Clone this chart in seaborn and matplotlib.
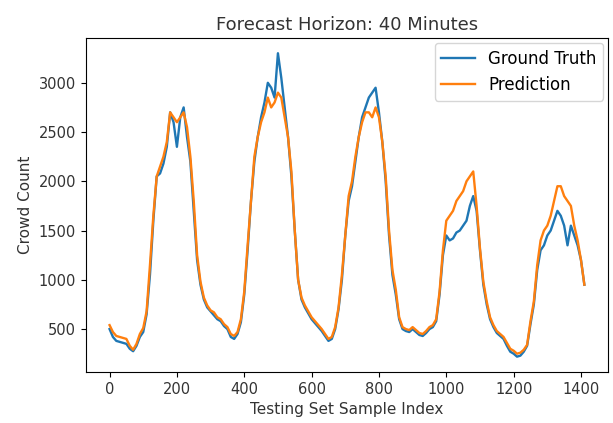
import numpy as np
import pandas as pd
import matplotlib
matplotlib.use("Agg")
import matplotlib.pyplot as plt
import seaborn as sns

# --- Data (every 10th sample) ---
STEP = 10
ground_truth = [
    500, 420, 380, 370, 360, 350, 300, 275, 330, 420,
    470, 650, 1050, 1600, 2050, 2080, 2180, 2350, 2700, 2600,
    2350, 2650, 2750, 2450, 2200, 1700, 1200, 950, 800, 720,
    680, 640, 600, 580, 530, 500, 420, 400, 450, 570,
    850, 1300, 1800, 2200, 2450, 2650, 2800, 3000, 2950, 2850,
    3300, 3050, 2750, 2450, 2050, 1500, 1000, 800, 720, 660,
    600, 560, 520, 480, 430, 380, 400, 500, 700, 1000,
    1450, 1800, 1950, 2200, 2450, 2650, 2750, 2850, 2900, 2950,
    2700, 2400, 2000, 1450, 1050, 850, 600, 500, 480, 470,
    500, 470, 440, 430, 460, 500, 520, 580, 850, 1250,
    1450, 1400, 1420, 1480, 1500, 1550, 1600, 1750, 1850, 1700,
    1300, 950, 750, 600, 520, 460, 430, 400, 330, 270,
    250, 220, 230, 270, 330, 550, 750, 1100, 1300, 1350,
    1450, 1500, 1600, 1700, 1650, 1550, 1350, 1550, 1450, 1350,
    1200, 950,
]
prediction = [
    540, 470, 430, 420, 410, 400, 330, 290, 350, 450,
    510, 680, 1150, 1650, 2050, 2150, 2250, 2400, 2700, 2650,
    2600, 2650, 2700, 2550, 2250, 1800, 1250, 980, 820, 740,
    690, 670, 620, 600, 550, 520, 450, 430, 470, 600,
    880, 1350, 1800, 2250, 2450, 2600, 2700, 2850, 2750, 2800,
    2900, 2850, 2650, 2450, 2100, 1500, 1000, 820, 740, 680,
    620, 580, 540, 500, 450, 400, 420, 520, 720, 1050,
    1450, 1850, 2000, 2250, 2450, 2600, 2700, 2700, 2650, 2750,
    2650, 2400, 2050, 1500, 1100, 900, 620, 520, 500, 490,
    520, 490, 460, 450, 480, 520, 540, 600, 880, 1300,
    1600, 1650, 1700, 1800, 1850, 1900, 2000, 2050, 2100, 1750,
    1320, 980, 780, 620, 540, 480, 450, 420, 360, 300,
    280, 250, 260, 290, 340, 580, 780, 1150, 1400, 1500,
    1550, 1650, 1800, 1950, 1950, 1850, 1800, 1750, 1550, 1400,
    1200, 950,
]
sample_index = np.arange(len(ground_truth)) * STEP

df = pd.DataFrame({
    "Testing Set Sample Index": sample_index,
    "Ground Truth": ground_truth,
    "Prediction": prediction,
})

fig = plt.figure(figsize=(6.13, 4.23), dpi=100)
ax = fig.add_axes([0.140, 0.121, 0.852, 0.789])

sns.lineplot(data=df, x="Testing Set Sample Index", y="Ground Truth",
             color="tab:blue", linewidth=1.7, label="Ground Truth", ax=ax)
sns.lineplot(data=df, x="Testing Set Sample Index", y="Prediction",
             color="tab:orange", linewidth=1.7, label="Prediction", ax=ax)

ax.set_title("Forecast Horizon: 40 Minutes", fontsize=13, color="#333333")
ax.set_xlabel("Testing Set Sample Index", fontsize=11, color="#333333")
ax.set_ylabel("Crowd Count", fontsize=11, color="#333333")
ax.set_xticks([0, 200, 400, 600, 800, 1000, 1200, 1400])
ax.set_yticks([500, 1000, 1500, 2000, 2500, 3000])
ax.tick_params(labelsize=10.5, labelcolor="#333333")
ax.legend(loc="upper right", fontsize=12, borderaxespad=0.3)

fig.savefig("out.png", dpi=100)
